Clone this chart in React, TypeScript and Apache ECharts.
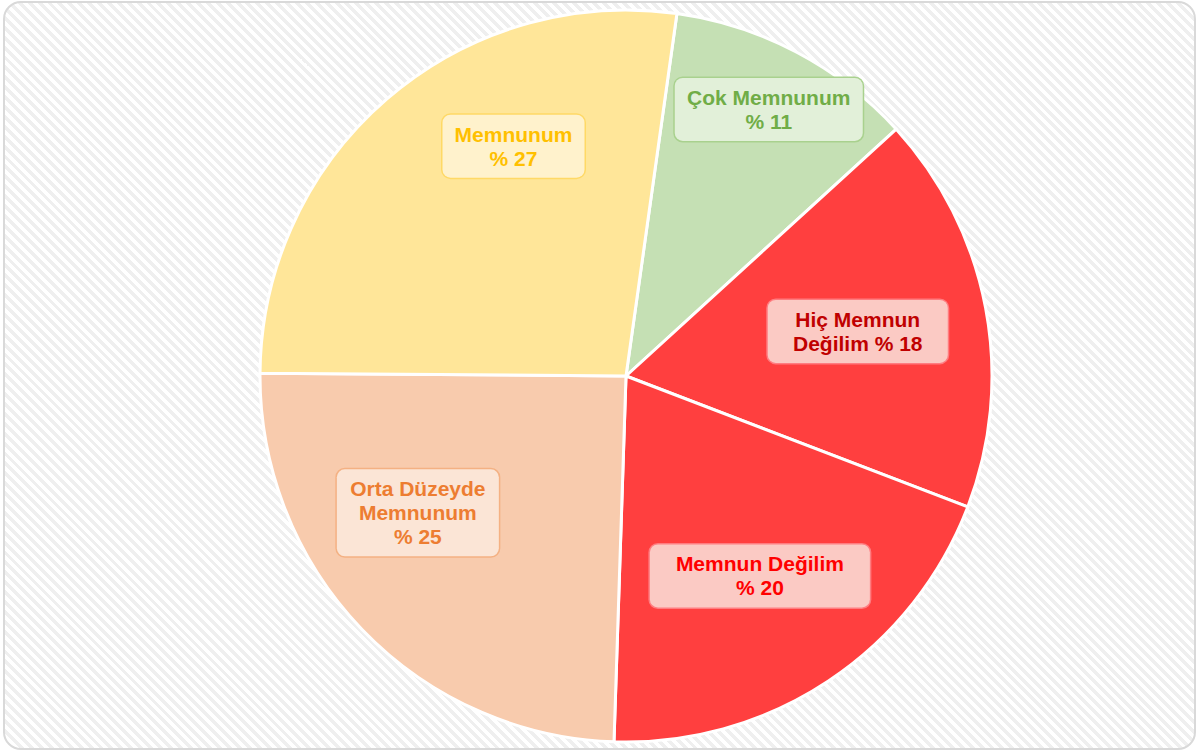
import React, { useEffect, useRef } from "react";
import * as echarts from "echarts";

const categories = ["Çok Memnunum", "Hiç Memnun Değilim", "Memnun Değilim", "Orta Düzeyde Memnunum", "Memnunum"];
const labelNames = ["Çok Memnunum", "Hiç Memnun\nDeğilim", "Memnun Değilim", "Orta Düzeyde\nMemnunum", "Memnunum"];
const labelSeparators = ["\n", " ", "\n", "\n", "\n"];
const values = [11.0, 17.6, 19.7, 24.6, 27.1];

const sliceColors = ["#C5E0B4", "#FF3F3F", "#FF3F3F", "#F8CBAD", "#FFE699"];
const textColors = ["#70AD47", "#C00000", "#FF0000", "#ED7D31", "#FFC000"];
const labelBg = ["#E2F0D9", "#FBCAC4", "#FBCAC4", "#FBE5D6", "#FFF2CC"];
const labelBorder = ["#A9D18E", "#FF7C80", "#FF7C80", "#F4B183", "#FFD966"];
const labelWidths = [168, 160, 200, 142, 122];
const labelOffsets: [number, number][] = [[56, -102], [49, -10], [31, 45], [-74, 8], [9, -89]];

export default function App() {
  const ref = useRef<HTMLDivElement>(null);
  useEffect(() => {
    if (!ref.current) return;
    const chart = echarts.init(ref.current, undefined, { renderer: "svg" });
    chart.setOption({
      animation: false,
      series: [
        {
          type: "pie",
          center: [626, 376],
          radius: [0, 366],
          startAngle: 82,
          clockwise: true,
          avoidLabelOverlap: false,
          itemStyle: { borderColor: "#ffffff", borderWidth: 3 },
          labelLine: { show: false },
          labelLayout: (p: any) => {
            const o = labelOffsets[p.dataIndex];
            return { dx: o[0], dy: o[1] };
          },
          data: categories.map((c, i) => ({
            name: c,
            value: values[i],
            itemStyle: { color: sliceColors[i] },
            label: {
              show: true,
              position: "inside",
              formatter: () => `${labelNames[i]}${labelSeparators[i]}% ${Math.round(values[i])}`,
              color: textColors[i],
              fontFamily: "Liberation Sans, Arial, sans-serif",
              fontWeight: "bold",
              fontSize: 21,
              lineHeight: 24,
              align: "center",
              width: labelWidths[i],
              backgroundColor: labelBg[i],
              borderColor: labelBorder[i],
              borderWidth: 1.5,
              borderRadius: 8,
              padding: [8, 10, 7, 10],
            },
          })),
        },
      ],
    });
    return () => chart.dispose();
  }, []);
  return (
    <div style={{ position: "fixed", left: 0, top: 0, width: 1199, height: 753, background: "#ffffff" }}>
      <div
        style={{
          position: "absolute",
          left: 3,
          top: 1,
          width: 1189,
          height: 745,
          border: "2px solid #d9d9d9",
          borderRadius: 18,
          background: "repeating-linear-gradient(45deg, #ffffff 0px, #ffffff 3.5px, #efefef 3.5px, #efefef 7px)",
        }}
      />
      <div ref={ref} style={{ position: "absolute", left: 0, top: 0, width: 1199, height: 753 }} />
    </div>
  );
}
